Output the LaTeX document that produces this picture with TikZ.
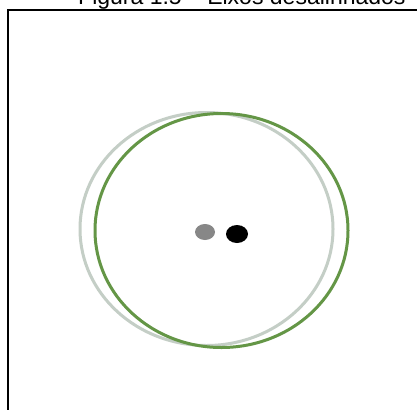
\documentclass[tikz,border=0pt]{standalone}
\usepackage{fontspec}
\setmainfont{Liberation Sans}
\definecolor{darkgreen}{RGB}{100,150,70}
\definecolor{palering}{RGB}{196,206,198}
\definecolor{dotgray}{RGB}{135,135,135}
\tikzset{
  frameline/.style={line width=2.2pt, black},
}
\begin{document}
\begin{tikzpicture}[x=1pt,y=-1pt]
\useasboundingbox (0,0) rectangle (417,410);
\fill[white] (0,0) rectangle (417,410);
\begin{scope}
\clip (0,0) rectangle (417,410);
\node[anchor=base west, inner sep=0pt, font=\fontsize{23}{26}\selectfont] (title) at (78,4) {Figura 1.5 – Eixos desalinhados};
\end{scope}
\coordinate (ftop) at (417,10);
\coordinate (fcorner) at (8,10);
\coordinate (fbottom) at (8,410);
\draw[frameline] (ftop) -- (fcorner) -- (fbottom);
\draw[palering, line width=3pt] (206.5,229) ellipse [x radius=126.5, y radius=116.5];
\draw[darkgreen, line width=3pt] (221.5,230.5) ellipse [x radius=126.5, y radius=117];
\fill[dotgray] (205,232) ellipse [x radius=10, y radius=8];
\fill[black] (237,234) ellipse [x radius=11, y radius=9];
\end{tikzpicture}
\end{document}
